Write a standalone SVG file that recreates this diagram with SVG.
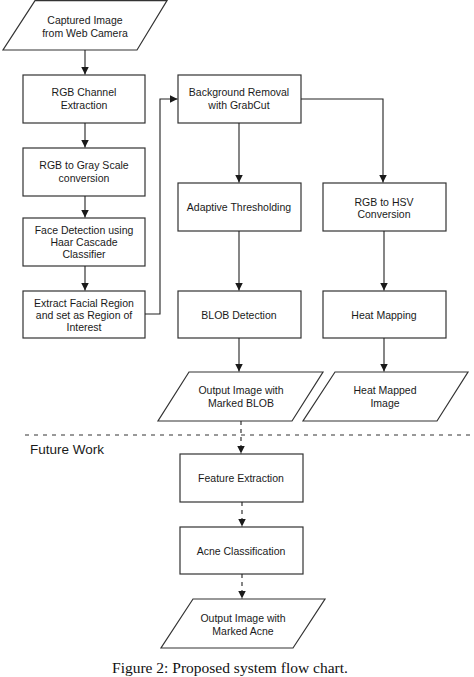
<svg xmlns="http://www.w3.org/2000/svg" width="474" height="677" viewBox="0 0 474 677">
<defs>
<marker id="ah" viewBox="0 0 10 10" refX="10" refY="5" markerWidth="8" markerHeight="8" markerUnits="userSpaceOnUse" orient="auto">
<path d="M0,0 L10,5 L0,10 z" fill="#1a1a1a"/>
</marker>
<style>
.n{fill:#fff;stroke:#333;stroke-width:1.2}
.t{font-family:"Liberation Sans",Arial,sans-serif;font-size:10.5px;fill:#1a1a1a;text-anchor:middle}
.c{fill:none;stroke:#222;stroke-width:1.1;marker-end:url(#ah)}
.d{stroke-dasharray:4,4}
</style>
</defs>
<rect width="474" height="677" fill="#fff"/>
<g id="n1"><polygon class="n" points="35,0.6 167,0.6 137,50 3,50"/><text class="t" x="85" y="24">Captured Image</text><text class="t" x="85" y="37">from Web Camera</text></g>
<g id="n2"><rect class="n" x="23" y="75" width="122" height="48"/><text class="t" x="84" y="96">RGB Channel</text><text class="t" x="84" y="109">Extraction</text></g>
<g id="n3"><rect class="n" x="23" y="148" width="122" height="48"/><text class="t" x="84" y="169">RGB to Gray Scale</text><text class="t" x="84" y="182">conversion</text></g>
<g id="n4"><rect class="n" x="23" y="218" width="122" height="48"/><text class="t" x="84" y="234">Face Detection using</text><text class="t" x="84" y="246">Haar Cascade</text><text class="t" x="84" y="258">Classifier</text></g>
<g id="n5"><rect class="n" x="23" y="291" width="122" height="47"/><text class="t" x="84" y="307">Extract Facial Region</text><text class="t" x="84" y="319">and set as Region of</text><text class="t" x="84" y="331">Interest</text></g>
<g id="n6"><rect class="n" x="178" y="75" width="123" height="48"/><text class="t" x="239" y="96">Background Removal</text><text class="t" x="239" y="109">with GrabCut</text></g>
<g id="n7"><rect class="n" x="178" y="183" width="123" height="48"/><text class="t" x="239" y="211">Adaptive Thresholding</text></g>
<g id="n8"><rect class="n" x="323" y="183" width="123" height="48"/><text class="t" x="384" y="206">RGB to HSV</text><text class="t" x="384" y="218">Conversion</text></g>
<g id="n9"><rect class="n" x="178" y="291" width="123" height="47"/><text class="t" x="239" y="319">BLOB Detection</text></g>
<g id="n10"><rect class="n" x="323" y="291" width="123" height="47"/><text class="t" x="384" y="319">Heat Mapping</text></g>
<g id="n11"><polygon class="n" points="189,372 323,372 292,421 158,421"/><text class="t" x="241" y="394">Output Image with</text><text class="t" x="241" y="407">Marked BLOB</text></g>
<g id="n12"><polygon class="n" points="335,372 468,372 437,421 303,421"/><text class="t" x="385" y="394">Heat Mapped</text><text class="t" x="385" y="407">Image</text></g>
<g id="sep"><line x1="25" y1="435" x2="474" y2="435" stroke="#333" stroke-width="1" stroke-dasharray="4,5"/><text x="30" y="454" font-family="Liberation Sans,Arial,sans-serif" font-size="13.5" fill="#1a1a1a">Future Work</text></g>
<g id="n13"><rect class="n" x="180" y="454" width="123" height="48"/><text class="t" x="241" y="482">Feature Extraction</text></g>
<g id="n14"><rect class="n" x="180" y="527" width="123" height="47"/><text class="t" x="241" y="555">Acne Classification</text></g>
<g id="n15"><polygon class="n" points="193,599 325,599 293,648 161,648"/><text class="t" x="243" y="622">Output Image with</text><text class="t" x="243" y="635">Marked Acne</text></g>
<g id="connectors">
<path class="c" d="M85,50 V74.5"/>
<path class="c" d="M85,123 V147.5"/>
<path class="c" d="M85,196 V217.5"/>
<path class="c" d="M85,266 V290.5"/>
<path class="c" d="M145,314 H160 V99 H177.5"/>
<path class="c" d="M239,123 V182.5"/>
<path class="c" d="M301,99 H383 V182.5"/>
<path class="c" d="M239,231 V290.5"/>
<path class="c" d="M384,231 V290.5"/>
<path class="c" d="M239,338 V371.5"/>
<path class="c" d="M384,338 V371.5"/>
<path class="c d" d="M241,421 V453.5"/>
<path class="c d" d="M242,502 V526.5"/>
<path class="c d" d="M242,574 V598.5"/>
</g>
<text x="230" y="673" font-family="Liberation Serif,Times New Roman,serif" font-size="15.5" fill="#111" text-anchor="middle">Figure 2: Proposed system flow chart.</text>
</svg>
